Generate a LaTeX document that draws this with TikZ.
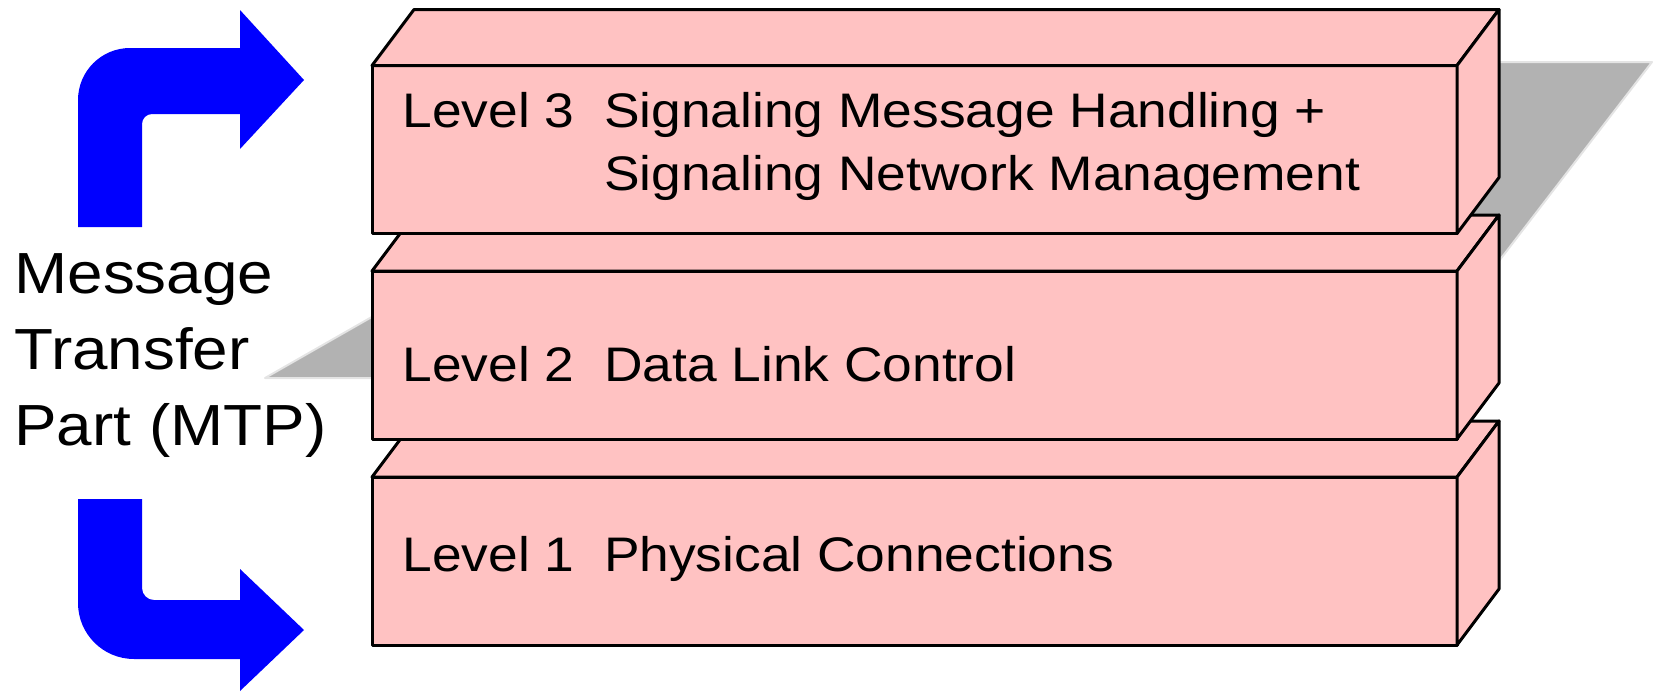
\documentclass[tikz,border=0pt]{standalone}
\usepackage{fontspec}
\setmainfont{Liberation Sans}
\newfontfamily\widesans[FakeStretch=1.1]{Liberation Sans}
\definecolor{layerpink}{RGB}{255,194,194}
\definecolor{planegray}{RGB}{178,178,178}
\definecolor{planeedge}{RGB}{228,228,228}

\begin{document}
\begin{tikzpicture}[x=0.5pt, y=-0.5pt, line join=round,
    face/.style={draw, fill=layerpink, line width=1.5pt, minimum width=542.5pt,
      minimum height=84pt, inner sep=0pt, outer sep=0pt},
    side/.style={draw, fill=layerpink, line width=1.5pt},
    lvltext/.style={anchor=base west, inner sep=0pt, align=left,
      font=\widesans\fontsize{24.25}{31.5}\selectfont},
    mtptext/.style={anchor=base west, inner sep=0pt, align=left,
      font=\widesans\fontsize{29}{38}\selectfont}]
  \useasboundingbox (0,0) rectangle (1659,691);

  \filldraw[fill=planegray, draw=planeedge, line width=1pt]
    (818,62) -- (1652,62) -- (1409,378) -- (265,378) -- cycle;

  \foreach \lvl/\y in {1/561, 2/355, 3/149.5} {
    \node[face] (box\lvl) at (914.5,\y) {};
    \draw[side] (box\lvl.north west) -- ++(42,-56)
      -- ([shift={(42,-56)}]box\lvl.north east) -- (box\lvl.north east) -- cycle;
    \draw[side] (box\lvl.north east) -- ++(42,-56)
      -- ([shift={(42,-56)}]box\lvl.south east) -- (box\lvl.south east) -- cycle;
  }

  % base of a multi-line node is its last line
  \node[lvltext] (txt3) at (402,190) {Level 3\ \ Signaling Message Handling +\\
    \phantom{Level 3\ \ }Signaling Network Management};
  \node[lvltext] (txt2) at (402,381) {Level 2\ \ Data Link Control};
  \node[lvltext] (txt1) at (402,571) {Level 1\ \ Physical Connections};

  \node[mtptext] (mtp) at (14,445) {Message\\Transfer\\Part (MTP)};

  \fill[blue] (78,227) -- (78,100) arc[start angle=180, end angle=270, radius=52]
    -- (240,48) -- (240,10) -- (304,80) -- (240,149) -- (240,114) -- (152,114)
    arc[start angle=270, end angle=180, radius=10] -- (142,227) -- cycle;
  \fill[blue] (78,499) -- (142,499) -- (142,588)
    arc[start angle=180, end angle=90, radius=12] -- (240,600) -- (240,569)
    -- (304,630) -- (240,691) -- (240,659) -- (134,659)
    arc[start angle=90, end angle=180, radius=56] -- cycle;
\end{tikzpicture}
\end{document}
